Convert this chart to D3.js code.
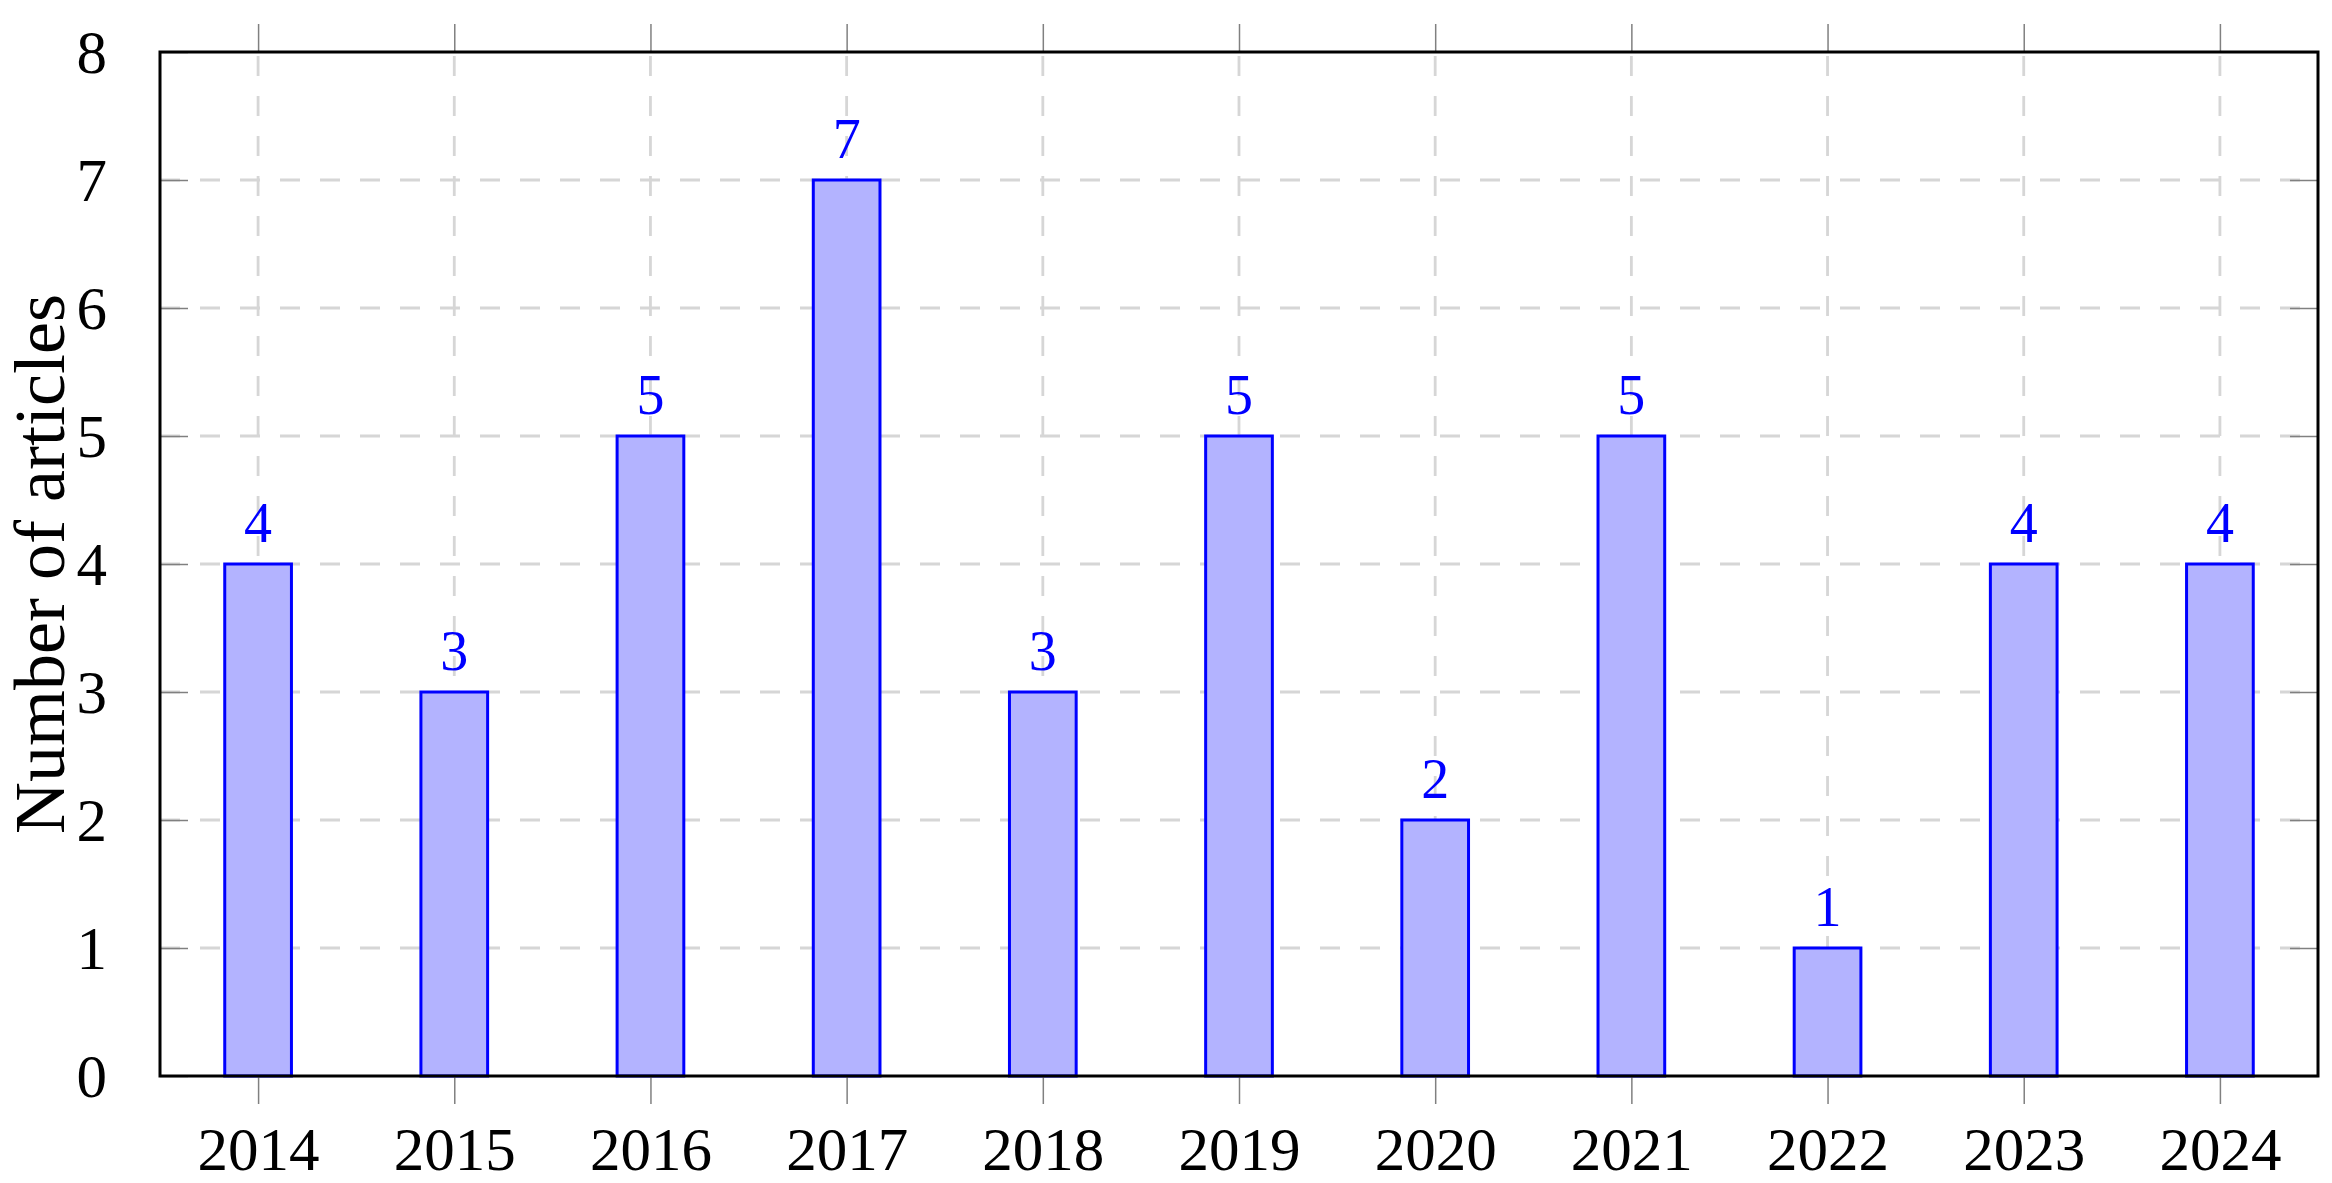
<!DOCTYPE html>
<html>
<head>
<meta charset="utf-8">
<script src="https://cdn.jsdelivr.net/npm/d3@7/dist/d3.min.js"></script>
<style>
  html, body { margin: 0; padding: 0; background: #fff; }
  svg { display: block; }
  text { font-family: "Liberation Serif", "DejaVu Serif", serif; }
</style>
</head>
<body>
<svg id="chart" width="2332" height="1183"></svg>
<script>
const years = [2014, 2015, 2016, 2017, 2018, 2019, 2020, 2021, 2022, 2023, 2024];
const articles = [4, 3, 5, 7, 3, 5, 2, 5, 1, 4, 4];
const yTicks = [0, 1, 2, 3, 4, 5, 6, 7, 8];
const yTitle = "Number of articles";

const m = { left: 160, right: 2318, top: 52, bottom: 1076 };

const svg = d3.select("#chart");

const x = d3.scaleLinear().domain([2013.5, 2024.5]).range([m.left, m.right]);
const y = d3.scaleLinear().domain([0, 8]).range([m.bottom, m.top]);
const barW = x(2014.34) - x(2014);

// Grid
const grid = svg.append("g")
  .attr("stroke", "#d6d6d6")
  .attr("stroke-width", 2.8)
  .attr("stroke-dasharray", "20,20")
  .attr("fill", "none");
grid.selectAll("line.v").data(years).join("line")
  .attr("class", "v")
  .attr("x1", d => x(d)).attr("x2", d => x(d))
  .attr("y1", m.bottom).attr("y2", m.top);
grid.selectAll("line.h").data(yTicks.filter(d => d > 0 && d < 8)).join("line")
  .attr("class", "h")
  .attr("x1", m.left).attr("x2", m.right)
  .attr("y1", d => y(d)).attr("y2", d => y(d));

// Bars
svg.append("g").selectAll("rect").data(years).join("rect")
  .attr("x", (d) => x(d) - barW / 2)
  .attr("width", barW)
  .attr("y", (d, i) => y(articles[i]))
  .attr("height", (d, i) => y(0) - y(articles[i]))
  .attr("fill", "#b3b3ff")
  .attr("stroke", "#0000ff")
  .attr("stroke-width", 3);

// Value labels
svg.append("g").selectAll("text").data(years).join("text")
  .attr("x", d => x(d))
  .attr("y", (d, i) => y(articles[i]) - 22)
  .attr("text-anchor", "middle")
  .attr("font-size", 56)
  .attr("fill", "#0000ff")
  .text((d, i) => articles[i]);

// Axes with ticks
const tickLen = 28;
const xAxisB = d3.axisBottom(x).tickValues(years).tickFormat(d3.format("d"))
  .tickSizeInner(tickLen).tickSizeOuter(0).tickPadding(22);
const gxb = svg.append("g").attr("transform", `translate(0,${m.bottom})`).call(xAxisB);
gxb.select(".domain").remove();
gxb.selectAll(".tick line").attr("stroke", "#808080").attr("stroke-width", 1.5);
gxb.selectAll(".tick text").attr("font-size", 61).attr("fill", "#000")
  .attr("font-family", "Liberation Serif").attr("dy", null).attr("y", 1170 - m.bottom);

const xAxisT = d3.axisTop(x).tickValues(years).tickFormat("")
  .tickSizeInner(tickLen).tickSizeOuter(0);
const gxt = svg.append("g").attr("transform", `translate(0,${m.top})`).call(xAxisT);
gxt.select(".domain").remove();
gxt.selectAll(".tick line").attr("stroke", "#808080").attr("stroke-width", 1.5);

const yAxisL = d3.axisLeft(y).tickValues(yTicks).tickFormat(d3.format("d"))
  .tickSizeInner(-tickLen).tickSizeOuter(0).tickPadding(25 + tickLen);
const gyl = svg.append("g").attr("transform", `translate(${m.left},0)`).call(yAxisL);
gyl.select(".domain").remove();
gyl.selectAll(".tick line").attr("stroke", "#808080").attr("stroke-width", 1.5);
gyl.selectAll(".tick text").attr("font-size", 61).attr("fill", "#000")
  .attr("font-family", "Liberation Serif").attr("dy", "0.34em");

const yAxisR = d3.axisRight(y).tickValues(yTicks).tickFormat("")
  .tickSizeInner(-tickLen).tickSizeOuter(0);
const gyr = svg.append("g").attr("transform", `translate(${m.right},0)`).call(yAxisR);
gyr.select(".domain").remove();
gyr.selectAll(".tick line").attr("stroke", "#808080").attr("stroke-width", 1.5);

// Frame
svg.append("rect")
  .attr("x", m.left).attr("y", m.top)
  .attr("width", m.right - m.left).attr("height", m.bottom - m.top)
  .attr("fill", "none").attr("stroke", "#000").attr("stroke-width", 3);

// Y title
svg.append("text")
  .attr("transform", `translate(64,${(m.top + m.bottom) / 2}) rotate(-90)`)
  .attr("text-anchor", "middle")
  .attr("font-size", 72)
  .attr("fill", "#000")
  .text(yTitle);
</script>
</body>
</html>
